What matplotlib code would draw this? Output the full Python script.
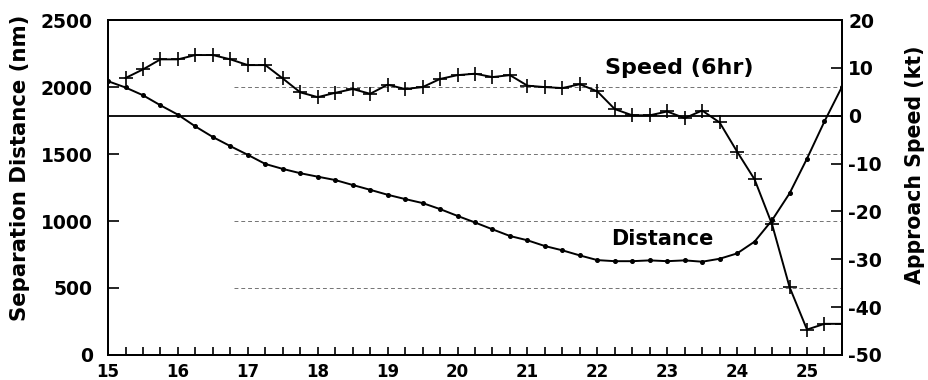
import numpy as np
import matplotlib.pyplot as plt
from matplotlib.ticker import MultipleLocator

plt.rcParams['font.family'] = 'DejaVu Sans'
plt.rcParams['axes.unicode_minus'] = False

### data (day of month, 6-hourly)
dist_days = [15.0, 15.25, 15.5, 15.75, 16.0, 16.25, 16.5, 16.75, 17.0, 17.25,
             17.5, 17.75, 18.0, 18.25, 18.5, 18.75, 19.0, 19.25, 19.5, 19.75,
             20.0, 20.25, 20.5, 20.75, 21.0, 21.25, 21.5, 21.75, 22.0, 22.25,
             22.5, 22.75, 23.0, 23.25, 23.5, 23.75, 24.0, 24.25, 24.5, 24.75,
             25.0, 25.25, 25.5]
distance = [2044, 1997, 1939, 1864, 1794, 1706, 1627, 1559, 1494, 1426,
            1389, 1357, 1331, 1306, 1269, 1233, 1196, 1164, 1134, 1089,
            1038, 989, 938, 888, 856, 813, 781, 743, 708, 700,
            700, 706, 700, 706, 696, 718, 758, 846, 1006, 1206,
            1466, 1744, 2002]

speed_days = [15.25, 15.5, 15.75, 16.0, 16.25, 16.5, 16.75, 17.0, 17.25,
              17.5, 17.75, 18.0, 18.25, 18.5, 18.75, 19.0, 19.25, 19.5, 19.75,
              20.0, 20.25, 20.5, 20.75, 21.0, 21.25, 21.5, 21.75, 22.0, 22.25,
              22.5, 22.75, 23.0, 23.25, 23.5, 23.75, 24.0, 24.25, 24.5, 24.75,
              25.0, 25.25, 25.5]
speed = [7.9, 9.7, 11.8, 11.8, 12.7, 12.7, 11.8, 10.6, 10.6,
         7.8, 4.9, 3.9, 4.8, 5.6, 4.6, 6.5, 5.6, 6.0, 7.7,
         8.5, 8.8, 8.1, 8.5, 6.3, 6.0, 5.8, 6.6, 5.1, 1.4,
         0.1, 0.1, 0.9, -0.5, 1.1, -1.4, -7.5, -13.3, -22.7, -35.8,
         -44.7, -43.5, -43.5]

grid_levels = [500, 1000, 1500, 2000]
day_labels = [15, 16, 17, 18, 19, 20, 21, 22, 23, 24, 25]

fig = plt.figure(figsize=(9.29, 3.8), dpi=100)
ax1 = fig.add_axes([0.1163, 0.066, 0.79, 0.881])
ax2 = ax1.twinx()

# faint dashed reference lines
ax1.hlines(grid_levels, 16.8, 25.5, colors='0.45', linestyles=(0, (4, 3)),
           linewidth=0.7, zorder=1)

ax1.plot(dist_days, distance, color='black', lw=1.4, marker='o', ms=2.6,
         zorder=3)
ax2.plot(speed_days, speed, color='black', lw=1.4, marker='+', ms=10,
         mew=1.2, zorder=3)
ax2.axhline(0, color='black', lw=1.3, zorder=2)

ax1.set_xlim(15, 25.5)
ax1.set_ylim(0, 2500)
ax2.set_ylim(-50, 20)

ax1.set_xticks(day_labels)
ax1.xaxis.set_minor_locator(MultipleLocator(0.25))
ax1.yaxis.set_major_locator(MultipleLocator(500))
ax2.yaxis.set_major_locator(MultipleLocator(10))

ax1.set_xticklabels([str(d) for d in day_labels], fontweight='bold',
                    fontsize=12)
for lab in ax1.get_yticklabels() + ax2.get_yticklabels():
    lab.set_fontweight('bold')
    lab.set_fontsize(13.5)

ax1.tick_params(axis='x', which='both', direction='in', length=6, width=1.2,
                pad=6)
ax1.tick_params(axis='y', direction='in', length=8, width=1.2, pad=11)
ax2.tick_params(axis='y', direction='in', length=8, width=1.2, pad=4.5)

for a in (ax1, ax2):
    for s in a.spines.values():
        s.set_linewidth(1.4)

fig.text(20 / 929, 1 - 168 / 380, 'Separation Distance (nm)',
         fontweight='bold', fontsize=15.3, rotation=90,
         ha='center', va='center')
fig.text(915 / 929, 1 - 165 / 380, 'Approach Speed (kt)',
         fontweight='bold', fontsize=14.8, rotation=90,
         ha='center', va='center')

ax2.text(23.17, 9.9, 'Speed (6hr)', fontweight='bold', fontsize=16,
         ha='center', va='center')
ax1.text(22.93, 863, 'Distance', fontweight='bold', fontsize=15,
         ha='center', va='center')

fig.savefig('out.png', dpi=100)
